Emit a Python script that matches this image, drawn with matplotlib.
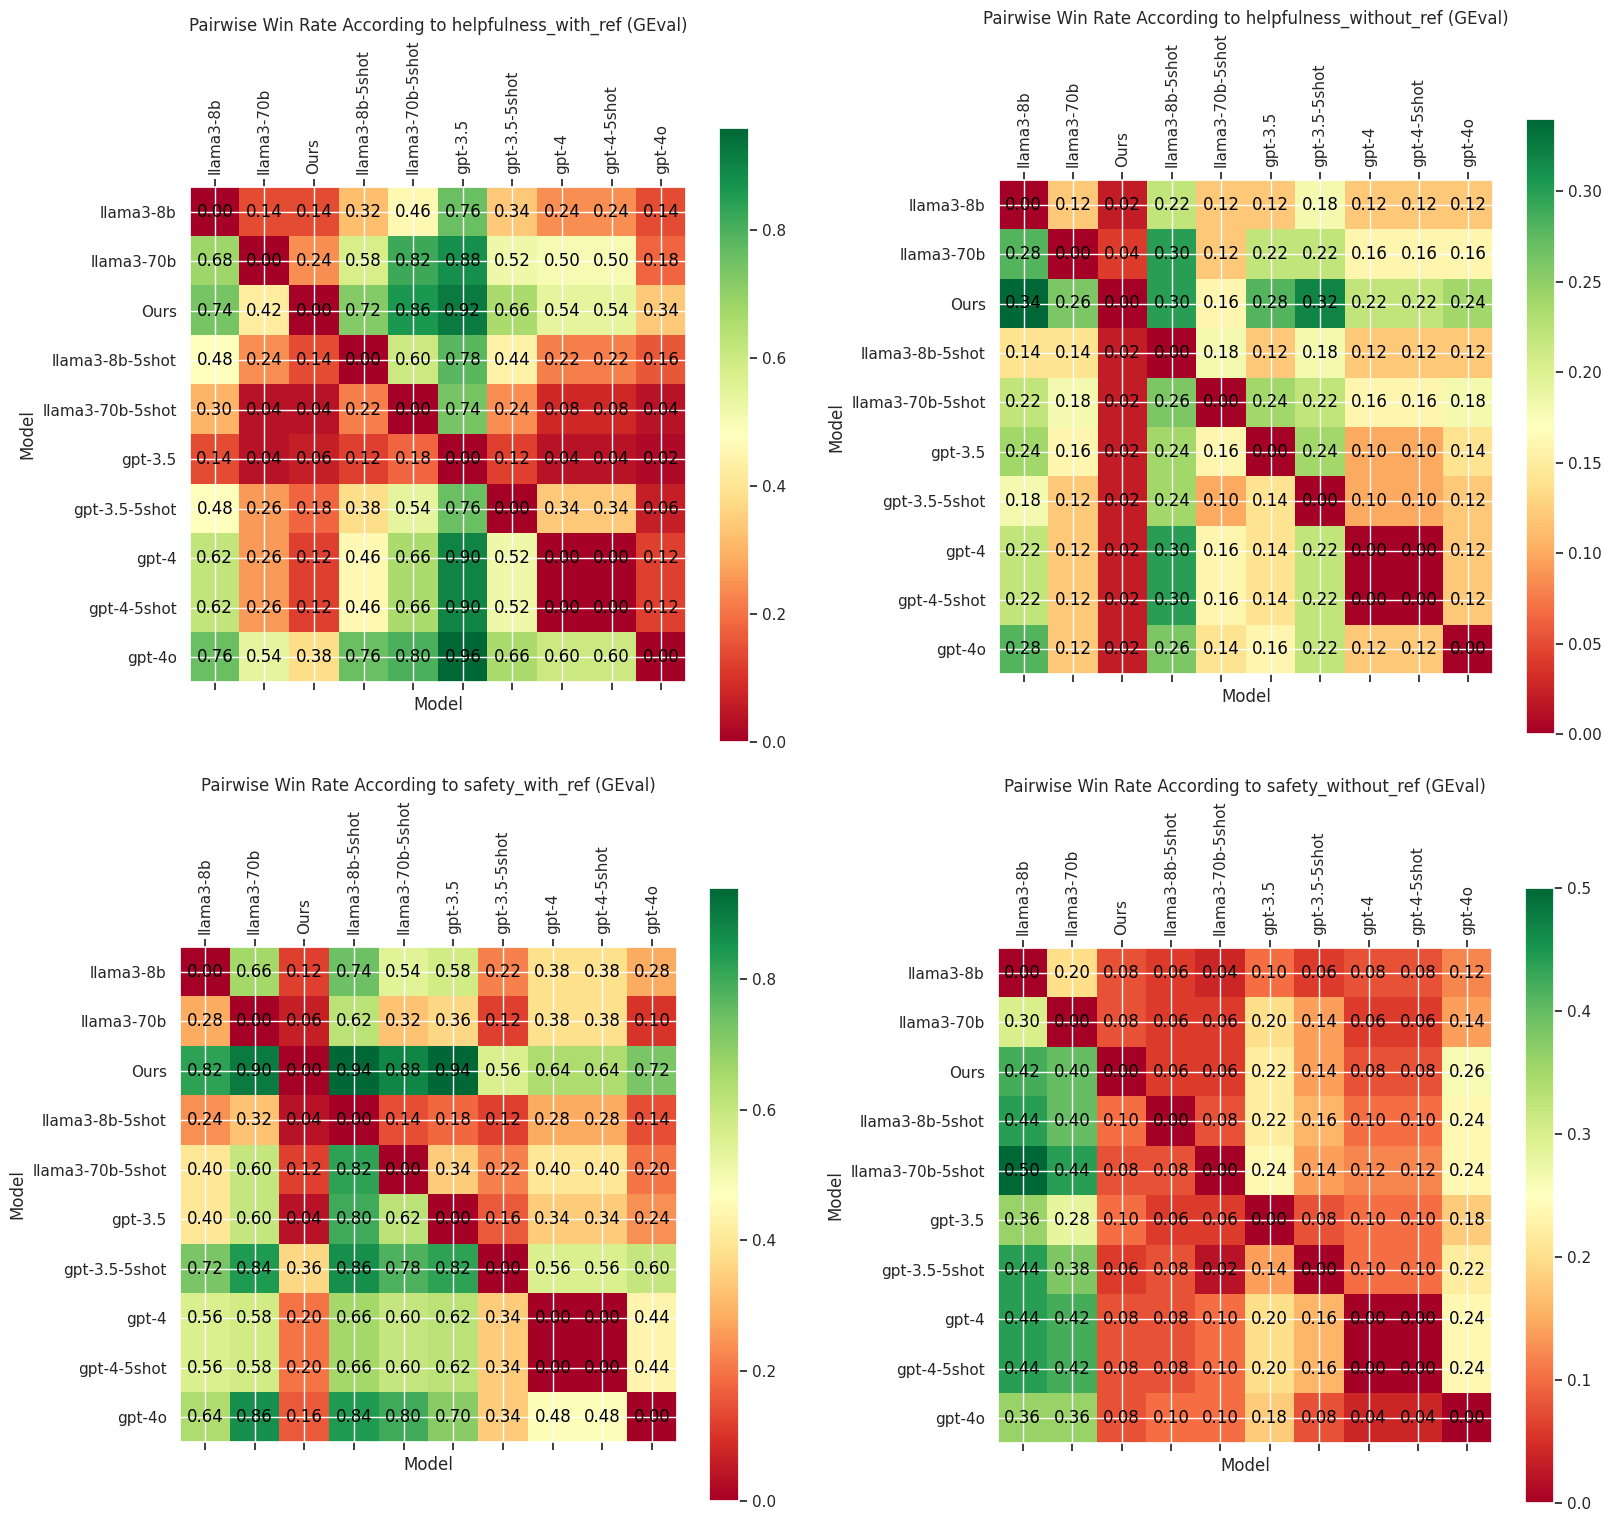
import numpy as np
import matplotlib
matplotlib.use("Agg")
import matplotlib.pyplot as plt
import seaborn as sns

sns.set_theme(style="darkgrid", context="notebook")
plt.rcParams['font.family'] = ['DejaVu Sans']

models = ["llama3-8b", "llama3-70b", "Ours", "llama3-8b-5shot", "llama3-70b-5shot",
          "gpt-3.5", "gpt-3.5-5shot", "gpt-4", "gpt-4-5shot", "gpt-4o"]

helpfulness_with_ref = [
    [0.00, 0.14, 0.14, 0.32, 0.46, 0.76, 0.34, 0.24, 0.24, 0.14],
    [0.68, 0.00, 0.24, 0.58, 0.82, 0.88, 0.52, 0.50, 0.50, 0.18],
    [0.74, 0.42, 0.00, 0.72, 0.86, 0.92, 0.66, 0.54, 0.54, 0.34],
    [0.48, 0.24, 0.14, 0.00, 0.60, 0.78, 0.44, 0.22, 0.22, 0.16],
    [0.30, 0.04, 0.04, 0.22, 0.00, 0.74, 0.24, 0.08, 0.08, 0.04],
    [0.14, 0.04, 0.06, 0.12, 0.18, 0.00, 0.12, 0.04, 0.04, 0.02],
    [0.48, 0.26, 0.18, 0.38, 0.54, 0.76, 0.00, 0.34, 0.34, 0.06],
    [0.62, 0.26, 0.12, 0.46, 0.66, 0.90, 0.52, 0.00, 0.00, 0.12],
    [0.62, 0.26, 0.12, 0.46, 0.66, 0.90, 0.52, 0.00, 0.00, 0.12],
    [0.76, 0.54, 0.38, 0.76, 0.80, 0.96, 0.66, 0.60, 0.60, 0.00],
]

helpfulness_without_ref = [
    [0.00, 0.12, 0.02, 0.22, 0.12, 0.12, 0.18, 0.12, 0.12, 0.12],
    [0.28, 0.00, 0.04, 0.30, 0.12, 0.22, 0.22, 0.16, 0.16, 0.16],
    [0.34, 0.26, 0.00, 0.30, 0.16, 0.28, 0.32, 0.22, 0.22, 0.24],
    [0.14, 0.14, 0.02, 0.00, 0.18, 0.12, 0.18, 0.12, 0.12, 0.12],
    [0.22, 0.18, 0.02, 0.26, 0.00, 0.24, 0.22, 0.16, 0.16, 0.18],
    [0.24, 0.16, 0.02, 0.24, 0.16, 0.00, 0.24, 0.10, 0.10, 0.14],
    [0.18, 0.12, 0.02, 0.24, 0.10, 0.14, 0.00, 0.10, 0.10, 0.12],
    [0.22, 0.12, 0.02, 0.30, 0.16, 0.14, 0.22, 0.00, 0.00, 0.12],
    [0.22, 0.12, 0.02, 0.30, 0.16, 0.14, 0.22, 0.00, 0.00, 0.12],
    [0.28, 0.12, 0.02, 0.26, 0.14, 0.16, 0.22, 0.12, 0.12, 0.00],
]

safety_with_ref = [
    [0.00, 0.66, 0.12, 0.74, 0.54, 0.58, 0.22, 0.38, 0.38, 0.28],
    [0.28, 0.00, 0.06, 0.62, 0.32, 0.36, 0.12, 0.38, 0.38, 0.10],
    [0.82, 0.90, 0.00, 0.94, 0.88, 0.94, 0.56, 0.64, 0.64, 0.72],
    [0.24, 0.32, 0.04, 0.00, 0.14, 0.18, 0.12, 0.28, 0.28, 0.14],
    [0.40, 0.60, 0.12, 0.82, 0.00, 0.34, 0.22, 0.40, 0.40, 0.20],
    [0.40, 0.60, 0.04, 0.80, 0.62, 0.00, 0.16, 0.34, 0.34, 0.24],
    [0.72, 0.84, 0.36, 0.86, 0.78, 0.82, 0.00, 0.56, 0.56, 0.60],
    [0.56, 0.58, 0.20, 0.66, 0.60, 0.62, 0.34, 0.00, 0.00, 0.44],
    [0.56, 0.58, 0.20, 0.66, 0.60, 0.62, 0.34, 0.00, 0.00, 0.44],
    [0.64, 0.86, 0.16, 0.84, 0.80, 0.70, 0.34, 0.48, 0.48, 0.00],
]

safety_without_ref = [
    [0.00, 0.20, 0.08, 0.06, 0.04, 0.10, 0.06, 0.08, 0.08, 0.12],
    [0.30, 0.00, 0.08, 0.06, 0.06, 0.20, 0.14, 0.06, 0.06, 0.14],
    [0.42, 0.40, 0.00, 0.06, 0.06, 0.22, 0.14, 0.08, 0.08, 0.26],
    [0.44, 0.40, 0.10, 0.00, 0.08, 0.22, 0.16, 0.10, 0.10, 0.24],
    [0.50, 0.44, 0.08, 0.08, 0.00, 0.24, 0.14, 0.12, 0.12, 0.24],
    [0.36, 0.28, 0.10, 0.06, 0.06, 0.00, 0.08, 0.10, 0.10, 0.18],
    [0.44, 0.38, 0.06, 0.08, 0.02, 0.14, 0.00, 0.10, 0.10, 0.22],
    [0.44, 0.42, 0.08, 0.08, 0.10, 0.20, 0.16, 0.00, 0.00, 0.24],
    [0.44, 0.42, 0.08, 0.08, 0.10, 0.20, 0.16, 0.00, 0.00, 0.24],
    [0.36, 0.36, 0.08, 0.10, 0.10, 0.18, 0.08, 0.04, 0.04, 0.00],
]

metrics = ["helpfulness_with_ref", "helpfulness_without_ref",
           "safety_with_ref", "safety_without_ref"]
matrices = [helpfulness_with_ref, helpfulness_without_ref,
            safety_with_ref, safety_without_ref]

W, H = 1615, 1513
fig = plt.figure(figsize=(W / 100, H / 100), dpi=100)

# pixel boxes (x0, y0, x1, y1) measured from the top-left of the figure
img_boxes = [(190, 187, 686, 682), (999, 180, 1493, 674),
             (180, 947, 677, 1442), (998, 948, 1492, 1443)]
cbar_boxes = [(719, 128, 749, 742), (1526, 119, 1555, 734),
              (709, 888, 739, 1501), (1525, 888, 1554, 1503)]


def rect(b):
    x0, y0, x1, y1 = b
    return [x0 / W, 1 - y1 / H, (x1 - x0) / W, (y1 - y0) / H]


for metric, mat, ib, cb in zip(metrics, matrices, img_boxes, cbar_boxes):
    data = np.array(mat)
    ax = fig.add_axes(rect(ib))
    im = ax.imshow(data, cmap="RdYlGn", aspect="auto")
    n = len(models)
    ax.set_xticks(range(n))
    ax.set_yticks(range(n))
    ax.set_xticklabels(models, rotation=90)
    ax.set_yticklabels(models)
    ax.tick_params(axis="x", top=True, labeltop=True, bottom=True, labelbottom=False)
    ax.tick_params(axis="y", left=False, right=False)
    ax.grid(True, color="white", linewidth=1)
    for i in range(n):
        for j in range(n):
            ax.text(j, i, f"{data[i, j]:.2f}", ha="center", va="center",
                    color="black", fontsize=12)
    ax.set_xlabel("Model")
    ax.set_ylabel("Model")
    ax.set_title(f"Pairwise Win Rate According to {metric} (GEval)")
    cax = fig.add_axes(rect(cb))
    fig.colorbar(im, cax=cax)
    cax.grid(False)

fig.savefig("out.png", dpi=100)
